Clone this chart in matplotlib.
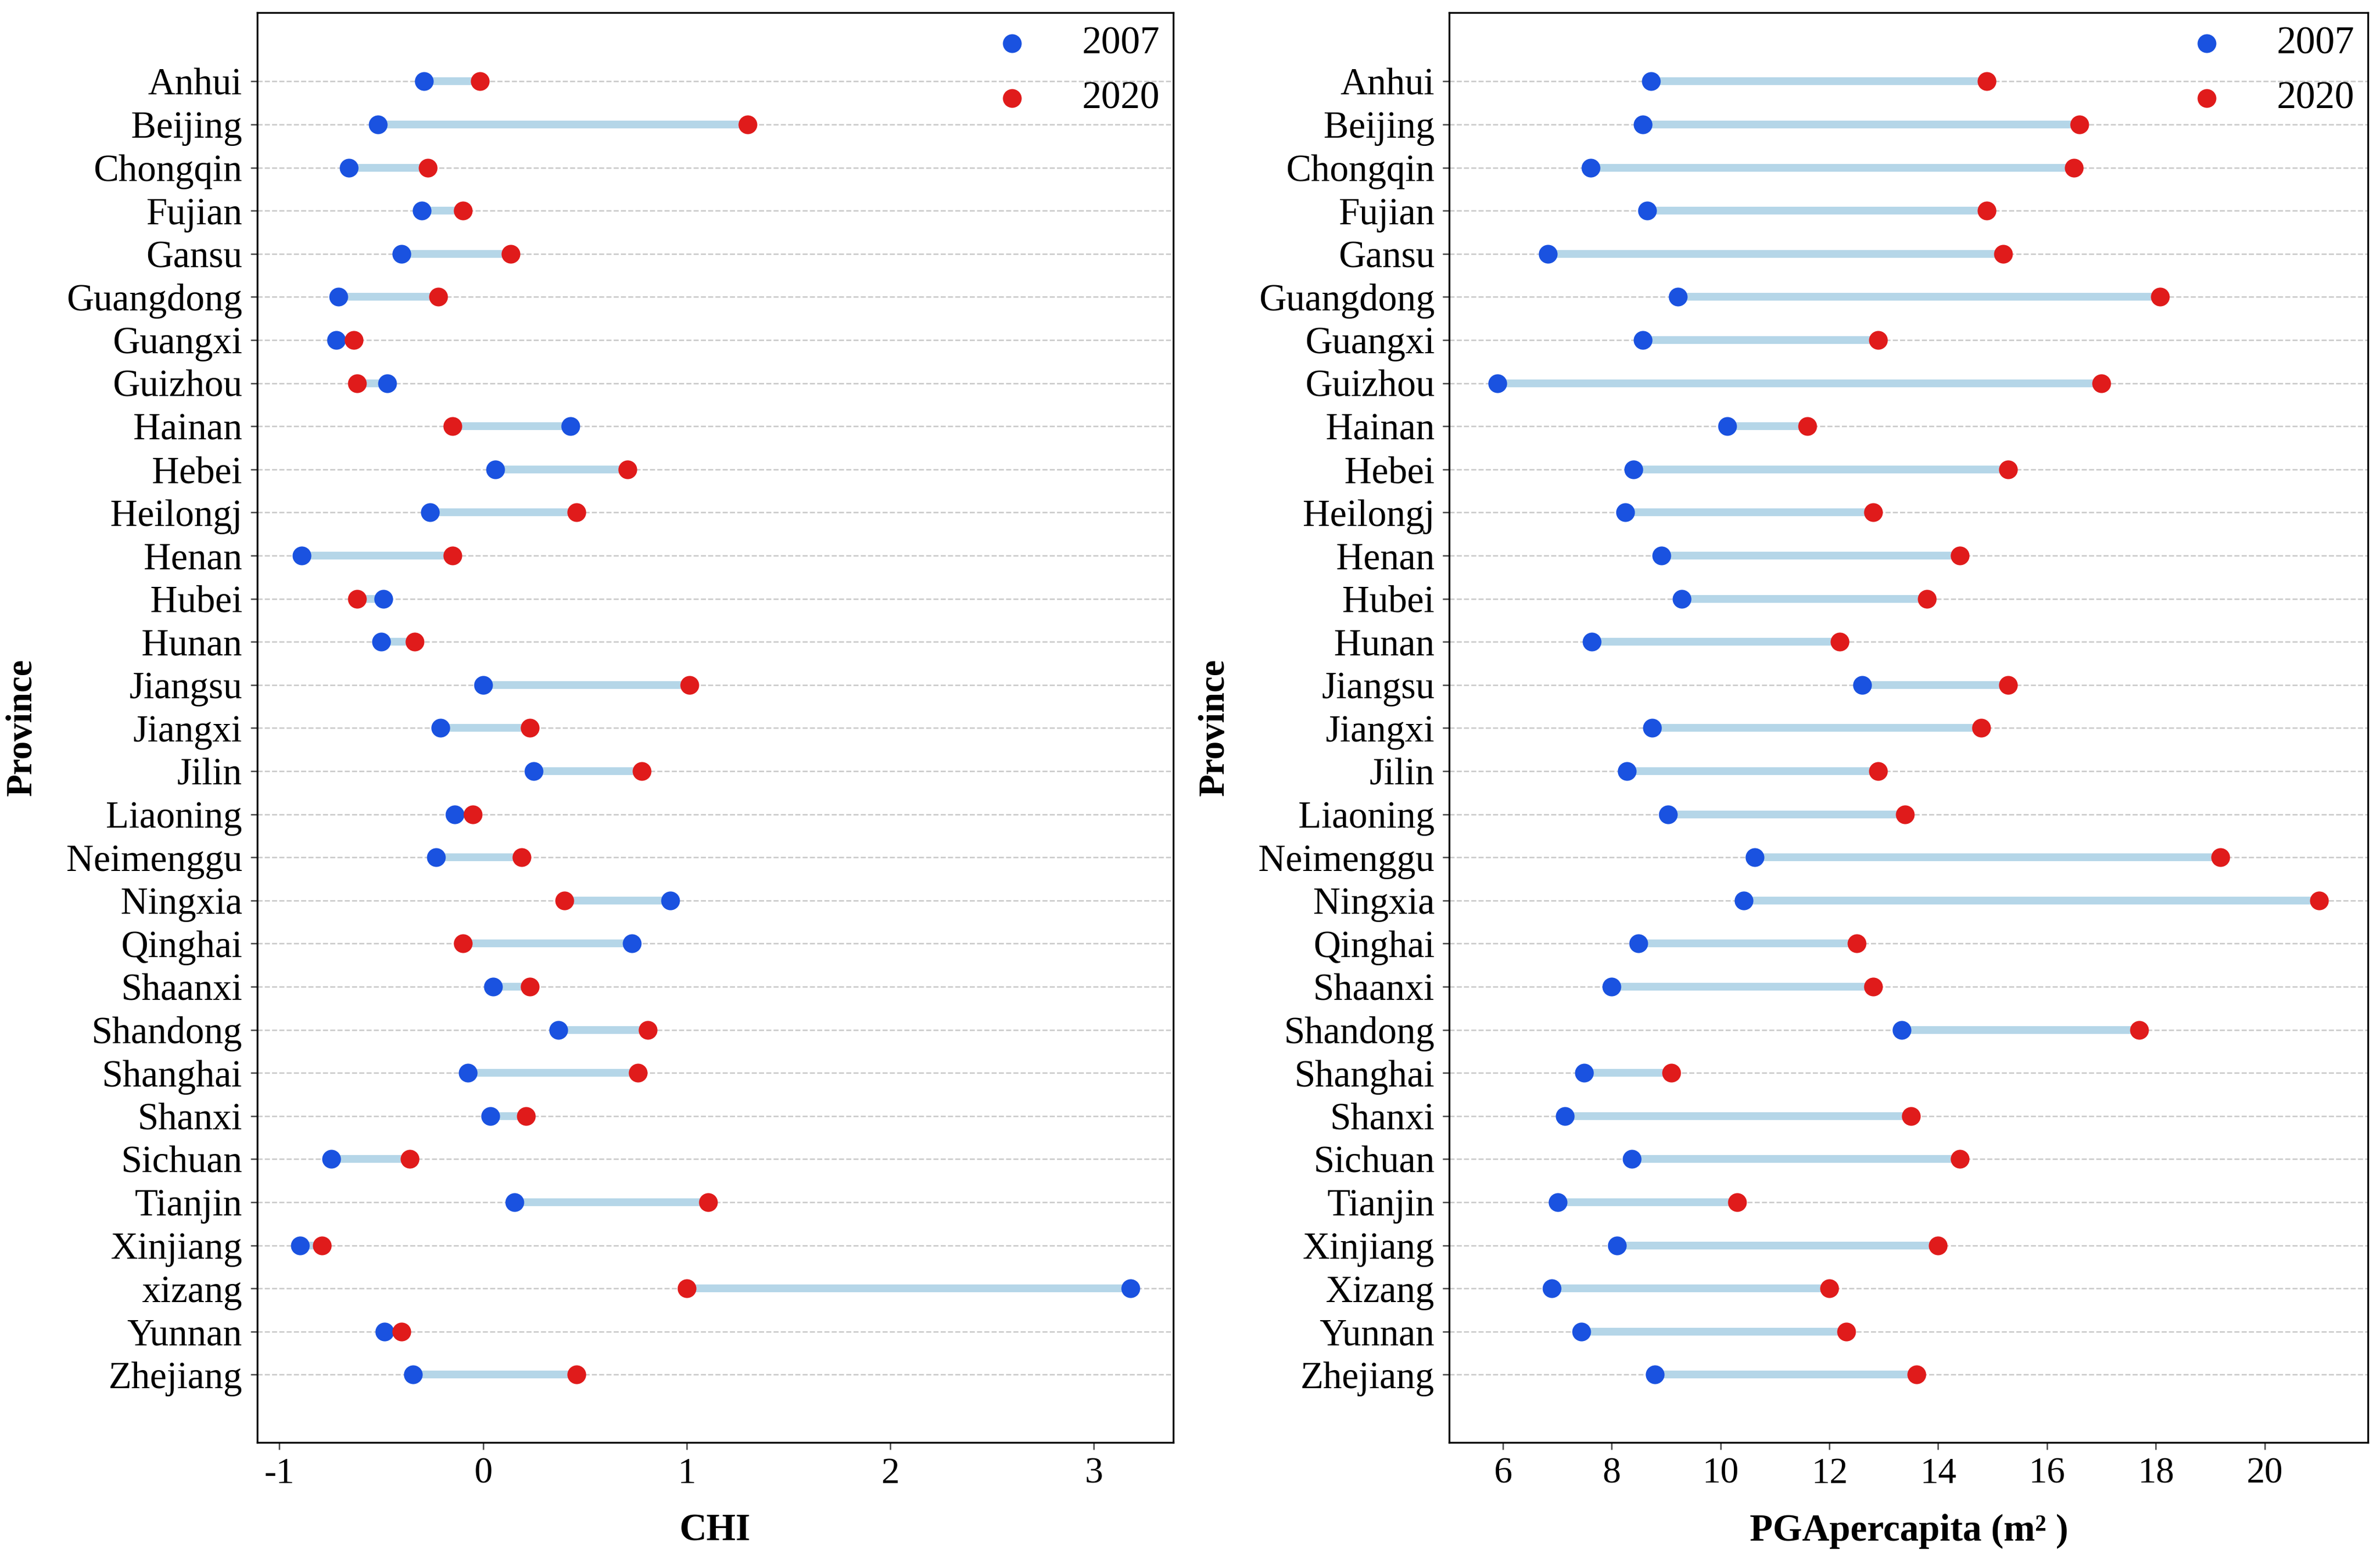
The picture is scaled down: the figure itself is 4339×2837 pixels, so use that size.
import matplotlib
matplotlib.use('Agg')
import matplotlib.pyplot as plt
import numpy as np

plt.rcParams['font.family'] = ['Liberation Serif', 'DejaVu Serif']

provinces_chi = ['Anhui', 'Beijing', 'Chongqin', 'Fujian', 'Gansu', 'Guangdong', 'Guangxi', 'Guizhou',
                 'Hainan', 'Hebei', 'Heilongj', 'Henan', 'Hubei', 'Hunan', 'Jiangsu', 'Jiangxi', 'Jilin',
                 'Liaoning', 'Neimenggu', 'Ningxia', 'Qinghai', 'Shaanxi', 'Shandong', 'Shanghai', 'Shanxi',
                 'Sichuan', 'Tianjin', 'Xinjiang', 'xizang', 'Yunnan', 'Zhejiang']
provinces_pga = provinces_chi[:28] + ['Xizang', 'Yunnan', 'Zhejiang']

chi_2007 = [-0.29, -0.515, -0.66, -0.30, -0.40, -0.71, -0.72, -0.47, 0.43, 0.06, -0.26, -0.89, -0.49, -0.50,
            0.00, -0.21, 0.25, -0.14, -0.23, 0.92, 0.73, 0.05, 0.37, -0.075, 0.035, -0.745, 0.155, -0.90,
            3.18, -0.485, -0.345]
chi_2020 = [-0.015, 1.30, -0.27, -0.10, 0.135, -0.22, -0.635, -0.62, -0.15, 0.71, 0.46, -0.15, -0.62, -0.335,
            1.015, 0.23, 0.78, -0.05, 0.19, 0.40, -0.10, 0.23, 0.81, 0.76, 0.21, -0.36, 1.105, -0.79,
            1.00, -0.40, 0.46]

pga_2007 = [8.72, 8.57, 7.62, 8.65, 6.83, 9.22, 8.57, 5.90, 10.13, 8.40, 8.25, 8.92, 9.29, 7.64, 12.60, 8.74,
            8.28, 9.04, 10.63, 10.43, 8.49, 8.00, 13.33, 7.49, 7.14, 8.375, 7.01, 8.10, 6.90, 7.44, 8.79]
pga_2020 = [14.89, 16.60, 16.49, 14.89, 15.19, 18.08, 12.90, 17.00, 11.60, 15.29, 12.81, 14.40, 13.79, 12.19,
            15.29, 14.79, 12.90, 13.39, 19.19, 21.00, 12.50, 12.81, 17.69, 9.10, 13.50, 14.40, 10.31, 14.00,
            12.00, 12.31, 13.60]

blue = '#1a52e0'
red = '#e01b1b'
seg = '#b5d6e8'


def dumbbell(ax, names, v1, v2, xlabel, xticks, xlim):
    y = np.arange(len(names))
    ax.hlines(y, v1, v2, color=seg, lw=3.4, zorder=2)
    ax.scatter(v1, y, color=blue, s=52, zorder=3, label='2007')
    ax.scatter(v2, y, color=red, s=52, zorder=3, label='2020')
    ax.set_yticks(y)
    ax.set_yticklabels(names, fontsize=16.5)
    ax.set_ylim(len(names) - 1 + 1.57, -1.6)
    ax.set_xticks(xticks)
    ax.set_xticklabels([str(t) for t in xticks], fontsize=16)
    ax.set_xlim(*xlim)
    ax.grid(axis='y', color='#c8c8c8', ls='--', lw=0.6, zorder=0)
    ax.set_axisbelow(True)
    ax.tick_params(axis='both', length=3, width=0.6, color='#444444')
    for s in ax.spines.values():
        s.set_linewidth(0.8)
    ax.set_ylabel('Province', fontsize=16, fontweight='bold', labelpad=12)
    ax.set_xlabel(xlabel, fontsize=16.5, fontweight='bold', labelpad=10)
    ax.legend(loc='upper right', frameon=False, fontsize=17, handletextpad=0.8,
              labelspacing=0.5, borderaxespad=0.0, borderpad=0.35)


fig = plt.figure(figsize=(4339 / 300, 2837 / 300), dpi=300)
ax1 = fig.add_axes([0.108, 0.073, 0.385, 0.919])
ax2 = fig.add_axes([0.609, 0.073, 0.386, 0.919])

dumbbell(ax1, provinces_chi, chi_2007, chi_2020, 'CHI', [-1, 0, 1, 2, 3], (-1.11, 3.39))
dumbbell(ax2, provinces_pga, pga_2007, pga_2020, 'PGApercapita (m² )',
         [6, 8, 10, 12, 14, 16, 18, 20], (5.02, 21.9))

fig.savefig('out.png', dpi=300)
